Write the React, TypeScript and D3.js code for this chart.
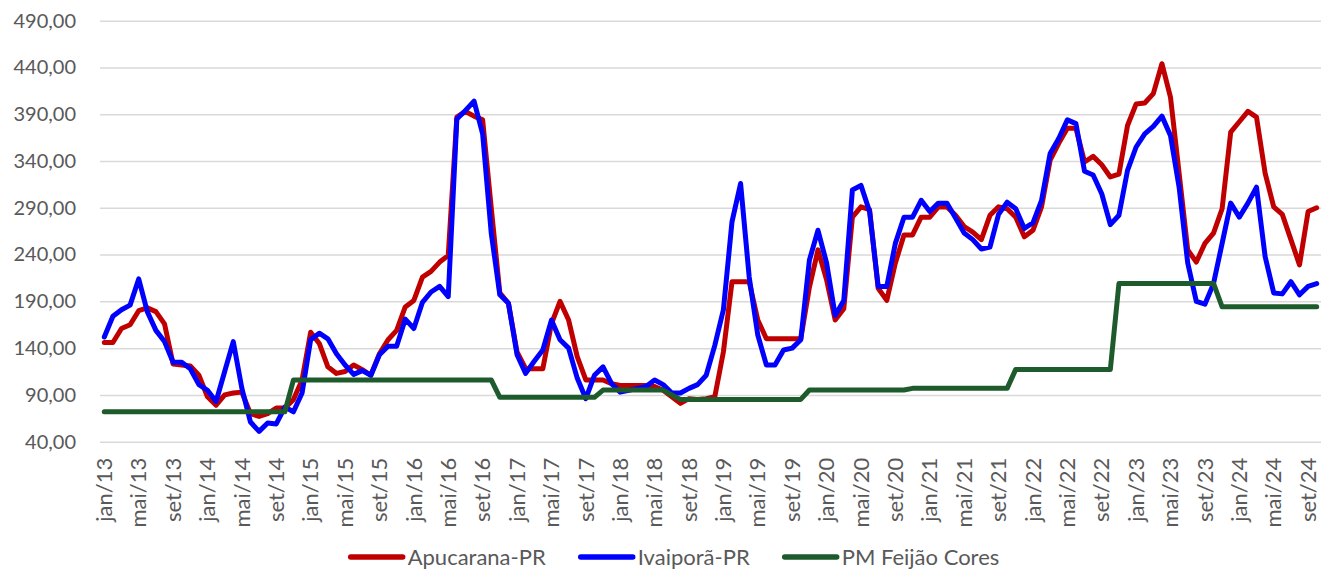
import React, { useEffect, useRef } from "react";
import * as d3 from "d3";

// month names and years used for the category axis (jan/13 .. out/24)
const monthNames = ["jan", "fev", "mar", "abr", "mai", "jun", "jul", "ago", "set", "out", "nov", "dez"];
const years = ["13", "14", "15", "16", "17", "18", "19", "20", "21", "22", "23", "24"];
const lastMonthIndex = 9; // out/24

const categories: string[] = [];
years.forEach((y, yi) => {
  monthNames.forEach((m, mi) => {
    if (yi === years.length - 1 && mi > lastMonthIndex) return;
    categories.push(`${m}/${y}`);
  });
});

const apucarana = [
  146, 146, 161, 165, 180, 183, 179, 166, 123, 122, 121, 111,
  88, 79, 90, 92, 93, 70, 67, 70, 76, 76, 85, 106,
  157, 145, 120, 113, 115, 122, 117, 111, 134, 149, 159, 184,
  191, 216, 222, 232, 239, 387, 393, 388, 384, 290, 199, 188,
  136, 118, 118, 118, 166, 190, 170, 131, 106, 106, 106, 102,
  100, 100, 100, 100, 99, 95, 88, 81, 86, 85, 86, 88,
  136, 211, 211, 211, 170, 150, 150, 150, 150, 150, 205, 245,
  213, 170, 182, 280, 291, 288, 204, 191, 231, 261, 261, 280,
  280, 291, 291, 282, 270, 264, 256, 282, 291, 289, 280, 259,
  266, 291, 341, 359, 375, 375, 339, 345, 336, 323, 326, 378,
  401, 402, 412, 444, 408, 327, 245, 232, 252, 263, 289, 371,
  382, 393, 387, 327, 291, 283, 256, 229, 286, 290,
];

const ivaipora = [
  152, 174, 181, 186, 214, 179, 159, 147, 125, 125, 118, 101,
  95, 83, 115, 147, 97, 61, 51, 60, 59, 77, 72, 92,
  149, 156, 150, 134, 122, 112, 116, 111, 133, 142, 142, 171,
  161, 189, 200, 206, 195, 385, 394, 404, 369, 263, 197, 188,
  133, 113, 126, 138, 170, 149, 140, 108, 86, 111, 120, 102,
  93, 95, 97, 99, 106, 101, 92, 92, 97, 101, 111, 143,
  181, 275, 316, 216, 154, 122, 122, 138, 140, 149, 234, 266,
  231, 175, 191, 309, 314, 286, 206, 206, 252, 280, 280, 298,
  286, 295, 295, 279, 263, 256, 246, 248, 283, 296, 289, 268,
  274, 298, 348, 364, 384, 380, 329, 325, 305, 272, 282, 330,
  355, 369, 377, 388, 367, 312, 231, 190, 187, 209, 252, 295,
  280, 295, 312, 238, 199, 198, 211, 197, 206, 209,
];

const pmFeijao = [
  72, 72, 72, 72, 72, 72, 72, 72, 72, 72, 72, 72,
  72, 72, 72, 72, 72, 72, 72, 72, 72, 72, 106, 106,
  106, 106, 106, 106, 106, 106, 106, 106, 106, 106, 106, 106,
  106, 106, 106, 106, 106, 106, 106, 106, 106, 106, 87.4, 87.4,
  87.4, 87.4, 87.4, 87.4, 87.4, 87.4, 87.4, 87.4, 87.4, 87.4, 95.2, 95.2,
  95.2, 95.2, 95.2, 95.2, 95.2, 95.2, 90, 85.2, 85.2, 85.2, 85.2, 85.2,
  85.2, 85.2, 85.2, 85.2, 85.2, 85.2, 85.2, 85.2, 85.2, 85.2, 95.2, 95.2,
  95.2, 95.2, 95.2, 95.2, 95.2, 95.2, 95.2, 95.2, 95.2, 95.2, 97, 97,
  97, 97, 97, 97, 97, 97, 97, 97, 97, 97, 117.3, 117.3,
  117.3, 117.3, 117.3, 117.3, 117.3, 117.3, 117.3, 117.3, 117.3, 117.3, 209.2, 209.2,
  209.2, 209.2, 209.2, 209.2, 209.2, 209.2, 209.2, 209.2, 209.2, 209.2, 184.2, 184.2,
  184.2, 184.2, 184.2, 184.2, 184.2, 184.2, 184.2, 184.2, 184.2, 184.2,
];

const yTicks = [40, 90, 140, 190, 240, 290, 340, 390, 440, 490];

const seriesNames = ["Apucarana-PR", "Ivaiporã-PR", "PM Feijão Cores"];
const seriesColors = ["#C00000", "#0000FF", "#1E5B2C"];

export default function App() {
  const svgRef = useRef<SVGSVGElement | null>(null);
  const width = 1322;
  const height = 569;
  const marginLeft = 100;
  const marginRight = 1;
  const marginTop = 20.7;
  const plotBottom = 441.7;
  const font = "Lato, 'Open Sans', sans-serif";
  const textColor = "#595959";

  useEffect(() => {
    const svg = d3.select(svgRef.current);
    svg.selectAll("*").remove();

    const x = d3.scaleBand()
      .domain(categories)
      .range([marginLeft, width - marginRight]);

    const y = d3.scaleLinear()
      .domain([40, 490])
      .range([plotBottom, marginTop]);

    const locale = d3.formatLocale({ decimal: ",", thousands: ".", grouping: [3], currency: ["R$", ""] });
    const fmt = locale.format(".2f");

    // Gridlines + y labels
    svg.append("g")
      .attr("transform", `translate(${marginLeft},0)`)
      .call(d3.axisLeft(y).tickValues(yTicks).tickFormat((d) => fmt(d as number))
        .tickSize(-(width - marginRight - marginLeft)).tickPadding(24))
      .call(g => g.select(".domain").remove())
      .call(g => g.selectAll(".tick line").attr("stroke", "#D9D9D9").attr("stroke-width", 1.5))
      .call(g => g.selectAll(".tick text")
        .attr("fill", textColor)
        .attr("font-family", font)
        .attr("font-size", 20));

    // x axis labels every 4 months
    const tickCats = categories.filter((_, i) => i % 4 === 0);
    svg.append("g")
      .attr("transform", `translate(0,${plotBottom})`)
      .call(d3.axisBottom(x).tickValues(tickCats).tickSize(0).tickPadding(0))
      .call(g => g.select(".domain").remove())
      .call(g => g.selectAll(".tick text")
        .attr("fill", textColor)
        .attr("font-family", font)
        .attr("font-size", 22)
        .attr("text-anchor", "end")
        .attr("transform", "rotate(-90)")
        .attr("x", -16)
        .attr("y", 0)
        .attr("dy", "0.35em"));

    const cx = (i: number) => (x(categories[i]) as number) + x.bandwidth() / 2;
    const series = [apucarana, ivaipora, pmFeijao];

    const line = d3.line<number>()
      .x((_, i) => cx(i))
      .y((d) => y(d));

    svg.append("g")
      .selectAll("path")
      .data(series)
      .join("path")
      .attr("fill", "none")
      .attr("stroke", (_, i) => seriesColors[i])
      .attr("stroke-width", 5)
      .attr("stroke-linejoin", "round")
      .attr("stroke-linecap", "round")
      .attr("d", (d) => line(d));

    // Legend
    const legend = svg.append("g");
    const gap = 33;
    let cursor = 0;
    seriesNames.forEach((name, i) => {
      const item = legend.append("g").attr("transform", `translate(${cursor},0)`);
      item.append("line")
        .attr("x1", 2).attr("x2", 54)
        .attr("y1", 0).attr("y2", 0)
        .attr("stroke", seriesColors[i])
        .attr("stroke-width", 5.5)
        .attr("stroke-linecap", "round");
      const t = item.append("text")
        .attr("x", 59)
        .attr("y", 0)
        .attr("dy", "0.35em")
        .attr("fill", textColor)
        .attr("font-family", font)
        .attr("font-size", 22)
        .text(name);
      const w = (t.node() as SVGTextElement).getComputedTextLength();
      cursor += 59 + w + gap;
    });
    const total = cursor - gap;
    legend.attr("transform", `translate(${674 - total / 2},557)`);
  }, []);

  return (
    <div style={{ position: "absolute", left: 0, top: 0 }}>
      <svg ref={svgRef} width={width} height={height} style={{ display: "block", background: "#fff" }} />
    </div>
  );
}
